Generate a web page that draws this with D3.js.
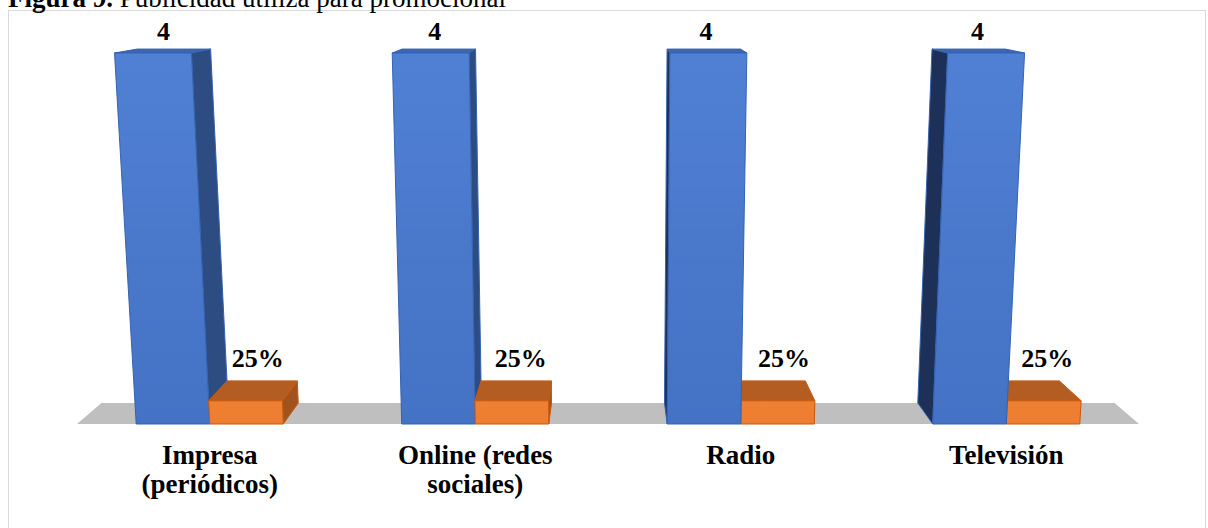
<!DOCTYPE html>
<html>
<head>
<meta charset="utf-8">
<script src="https://cdn.jsdelivr.net/npm/d3@7/dist/d3.min.js"></script>
<style>
  html, body { margin: 0; padding: 0; background: #ffffff; }
  svg { display: block; }
  text { font-family: "Liberation Serif", "Times New Roman", serif; }
</style>
</head>
<body>
<svg id="chart" width="1208" height="528"></svg>
<script>
// Categories and series values
const categories = ["Impresa (periódicos)", "Online (redes sociales)", "Radio", "Televisión"];
const categoryLines = [["Impresa", "(periódicos)"], ["Online (redes", "sociales)"], ["Radio"], ["Televisión"]];
const seriesKeys = ["frecuencia", "porcentaje"];
const frecuencia = [4, 4, 4, 4];
const porcentaje = [0.25, 0.25, 0.25, 0.25];
const valueDomain = [0, 4];

// Label formats per series
const labelFormat = {
  frecuencia: d3.format("d"),
  porcentaje: d3.format(".0%")
};

// Face colours per series
const palette = {
  frecuencia: { front: ["#5080d4", "#4472c4"], top: "#3d66b2", right: "#2d4c82", left: "#1d3057", stroke: "#3563b0" },
  porcentaje: { front: ["#ef7f33", "#ed7d31"], top: "#b45d22", right: "#a2531d", left: "#8f4718", stroke: "#c55a11" }
};

// Perspective frame of the plot floor
const CX = 608;          // vanishing column
const FRONT_Y = 424;     // floor front edge
const BACK_Y = 403;      // floor back edge
const FRONT_H = 371;     // full-scale height on the front plane
const DEPTH_K = 0.954;   // shrink from front plane to back plane
const RISE_K = 0.046;    // widening with height

function project(X, h, d) {
  const yF = FRONT_Y - FRONT_H * h;
  const yB = BACK_Y - FRONT_H * DEPTH_K * h;
  const yy = yF + (yB - yF) * d;
  const s = (1 + RISE_K * h) * (1 - (1 - DEPTH_K) * d);
  return [CX + (X - CX) * s, yy];
}

const svg = d3.select("#chart");
const defs = svg.append("defs");
seriesKeys.forEach(k => {
  const g = defs.append("linearGradient").attr("id", "grad-" + k)
    .attr("x1", 0).attr("y1", 0).attr("x2", 0).attr("y2", 1);
  g.append("stop").attr("offset", "0%").attr("stop-color", palette[k].front[0]);
  g.append("stop").attr("offset", "100%").attr("stop-color", palette[k].front[1]);
});

// Chart frame
svg.append("rect")
  .attr("x", 8.5).attr("y", 10.5).attr("width", 1197).attr("height", 530)
  .attr("fill", "none").attr("stroke", "#d9d9d9").attr("stroke-width", 1);

// Caption
const caption = svg.append("text")
  .attr("x", 8).attr("y", 7)
  .style("font-size", "27px").attr("fill", "#000");
caption.append("tspan").style("font-weight", "bold").text("Figura 9.");
caption.append("tspan").text(" Publicidad utiliza para promocional");

// Scales
const x0 = d3.scaleBand().domain(categories).range([77, 1139])
  .paddingInner(0.446).paddingOuter(0.223);
const x1 = d3.scaleBand().domain(seriesKeys).range([0, x0.bandwidth()]);
const y = d3.scaleLinear().domain(valueDomain).range([0, 1]);

const line = d3.line();

// Floor
const [fx0, fx1] = x0.range();
svg.append("path")
  .attr("d", line([project(fx0, 0, 0), project(fx1, 0, 0), project(fx1, 0, 1), project(fx0, 0, 1)]) + "Z")
  .attr("fill", "#bfbfbf");

// Boxes
const boxes = [];
categories.forEach((c, i) => {
  const vals = { frecuencia: frecuencia[i], porcentaje: porcentaje[i] };
  seriesKeys.forEach(k => {
    const X0 = x0(c) + x1(k);
    const X1 = X0 + x1.bandwidth();
    boxes.push({ cat: c, i, key: k, value: vals[k], X0, X1, h: y(vals[k]) });
  });
});

const barLayer = svg.append("g");
categories.forEach(c => {
  // farther-from-centre boxes are painted first
  const group = boxes.filter(b => b.cat === c)
    .sort((a, b) => Math.abs((b.X0 + b.X1) / 2 - CX) - Math.abs((a.X0 + a.X1) / 2 - CX));
  group.forEach(b => {
    const col = palette[b.key];
    const g = barLayer.append("g")
      .attr("stroke", col.stroke).attr("stroke-width", 1).attr("stroke-linejoin", "round");
    const P = project;
    if (b.X1 < CX) {
      g.append("path")
        .attr("d", line([P(b.X1, 0, 0), P(b.X1, 0, 1), P(b.X1, b.h, 1), P(b.X1, b.h, 0)]) + "Z")
        .attr("fill", col.right);
    }
    if (b.X0 > CX) {
      g.append("path")
        .attr("d", line([P(b.X0, 0, 0), P(b.X0, 0, 1), P(b.X0, b.h, 1), P(b.X0, b.h, 0)]) + "Z")
        .attr("fill", col.left);
    }
    g.append("path")
      .attr("d", line([P(b.X0, b.h, 0), P(b.X1, b.h, 0), P(b.X1, b.h, 1), P(b.X0, b.h, 1)]) + "Z")
      .attr("fill", col.top);
    g.append("path")
      .attr("d", line([P(b.X0, 0, 0), P(b.X1, 0, 0), P(b.X1, b.h, 0), P(b.X0, b.h, 0)]) + "Z")
      .attr("fill", "url(#grad-" + b.key + ")");
  });
});

// Data labels
const labelPlacement = {
  frecuencia: { depth: 0.5, dx: 0, dy: -9 },
  porcentaje: { depth: 0.25, dx: 8, dy: -14 }
};
svg.append("g")
  .selectAll("text")
  .data(boxes)
  .join("text")
  .attr("x", b => project((b.X0 + b.X1) / 2, b.h, labelPlacement[b.key].depth)[0] + labelPlacement[b.key].dx)
  .attr("y", b => project((b.X0 + b.X1) / 2, b.h, 1)[1] + labelPlacement[b.key].dy)
  .attr("text-anchor", "middle")
  .style("font-weight", "bold")
  .style("font-size", "26px")
  .attr("fill", "#000")
  .text(b => labelFormat[b.key](b.value));

// Category labels
const catLabels = svg.append("g")
  .selectAll("text")
  .data(categories)
  .join("text")
  .attr("text-anchor", "middle")
  .style("font-weight", "bold")
  .style("font-size", "27px")
  .attr("fill", "#000");
catLabels.each(function (c, i) {
  const cx = x0(c) + x0.bandwidth() / 2;
  d3.select(this).selectAll("tspan")
    .data(categoryLines[i])
    .join("tspan")
    .attr("x", cx)
    .attr("y", (d, j) => 464 + j * 29)
    .text(d => d);
});
</script>
</body>
</html>
